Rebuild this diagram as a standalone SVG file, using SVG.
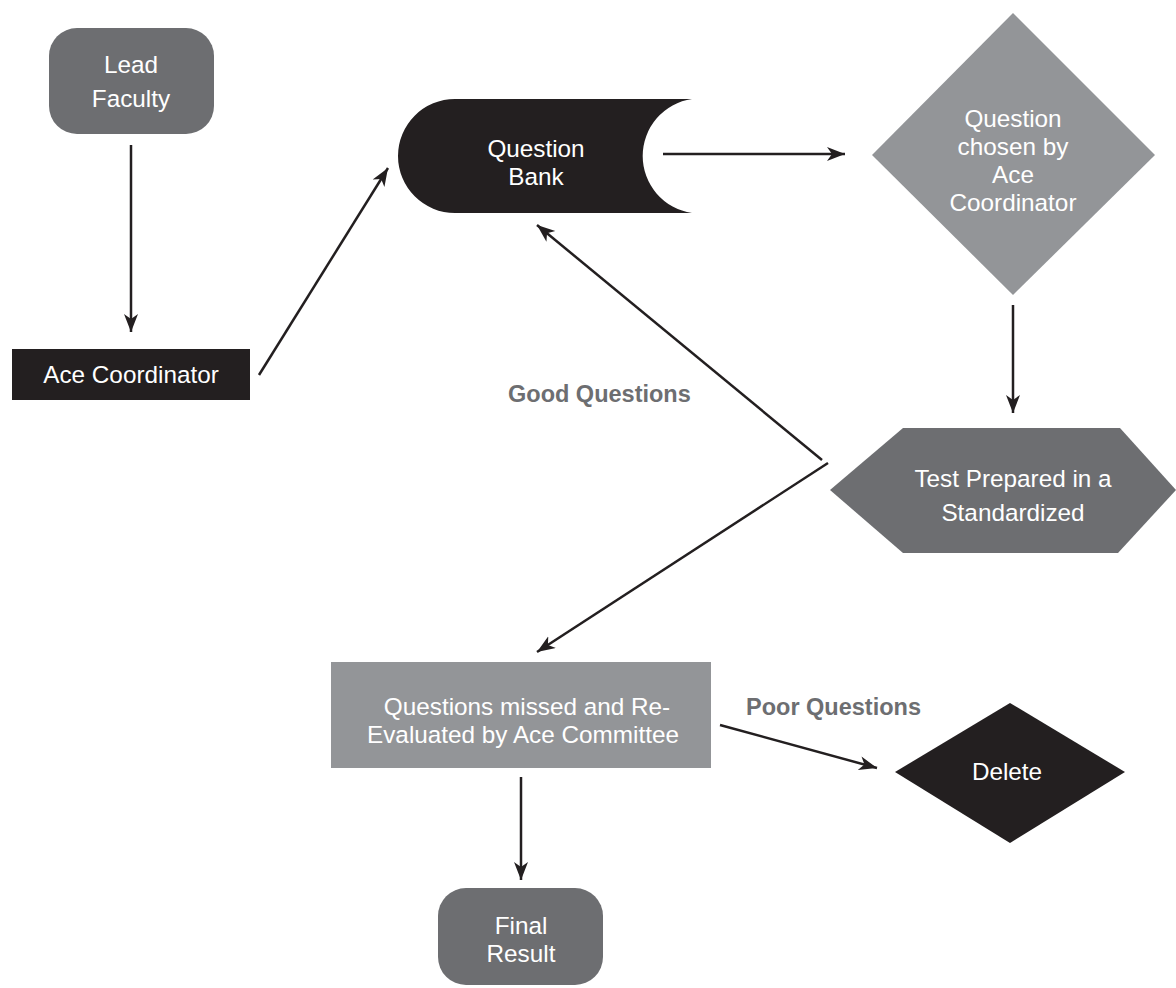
<svg xmlns="http://www.w3.org/2000/svg" width="1176" height="988" viewBox="0 0 1176 988">
<defs>
<style>
.t{font-family:"Liberation Sans",Arial,sans-serif;font-size:24.3px;fill:#fff;text-anchor:middle}
.lbl{font-family:"Liberation Sans",Arial,sans-serif;font-size:23.5px;font-weight:bold;fill:#6d6e71}
.dk{fill:#6d6e71}
.lt{fill:#939598}
.bk{fill:#231f20}
.c{stroke:#231f20;stroke-width:2.5;fill:none;marker-end:url(#ah)}
</style>
<marker id="ah" markerUnits="userSpaceOnUse" markerWidth="20" markerHeight="16" refX="18" refY="7" orient="auto">
<path d="M0,0 L18,7 L0,14 L5,7 Z" fill="#231f20"/>
</marker>
</defs>
<rect width="1176" height="988" fill="#fff"/>
<g id="connectors">
<line class="c" x1="131" y1="145" x2="131" y2="332"/>
<line class="c" x1="259" y1="375" x2="388" y2="168"/>
<line class="c" x1="663" y1="154" x2="845" y2="154"/>
<line class="c" x1="1013" y1="305" x2="1013" y2="413"/>
<line class="c" x1="822" y1="460" x2="537" y2="225"/>
<line class="c" x1="828" y1="463" x2="537" y2="652"/>
<line class="c" x1="720" y1="725" x2="877" y2="768"/>
<line class="c" x1="521" y1="777" x2="521" y2="880"/>
<text class="lbl" x="508" y="402">Good Questions</text>
<text class="lbl" x="746" y="715">Poor Questions</text>
</g>
<g id="lead-faculty">
<rect class="dk" x="49" y="28" width="165" height="106" rx="28"/>
<text class="t"><tspan x="131" y="73">Lead</tspan><tspan x="131" y="107">Faculty</tspan></text>
</g>
<g id="ace-coordinator">
<rect class="bk" x="12" y="349" width="238" height="51"/>
<text class="t" x="131" y="383">Ace Coordinator</text>
</g>
<g id="question-bank">
<path class="bk" d="M455,99 L692,99 A57.6,57.6 0 0 0 692,213 L455,213 A57,57 0 0 1 455,99 Z"/>
<text class="t"><tspan x="536" y="157">Question</tspan><tspan x="536" y="185">Bank</tspan></text>
</g>
<g id="question-chosen">
<polygon class="lt" points="1013,13 1155,155 1013,295 872,155"/>
<text class="t"><tspan x="1013" y="127">Question</tspan><tspan x="1013" y="155">chosen by</tspan><tspan x="1013" y="183">Ace</tspan><tspan x="1013" y="211">Coordinator</tspan></text>
</g>
<g id="test-prepared">
<polygon class="dk" points="830,490 903,428 1120,428 1176,490 1118,553 903,553"/>
<text class="t"><tspan x="1013" y="487">Test Prepared in a</tspan><tspan x="1013" y="521">Standardized</tspan></text>
</g>
<g id="questions-missed">
<rect class="lt" x="331" y="662" width="380" height="106"/>
<text class="t"><tspan x="527" y="715">Questions missed and Re-</tspan><tspan x="523" y="743">Evaluated by Ace Committee</tspan></text>
</g>
<g id="delete">
<polygon class="bk" points="1010,703 1125,772 1010,843 895,772"/>
<text class="t" x="1007" y="780">Delete</text>
</g>
<g id="final-result">
<rect class="dk" x="438" y="888" width="165" height="97" rx="28"/>
<text class="t"><tspan x="521" y="934">Final</tspan><tspan x="521" y="962">Result</tspan></text>
</g>
</svg>
